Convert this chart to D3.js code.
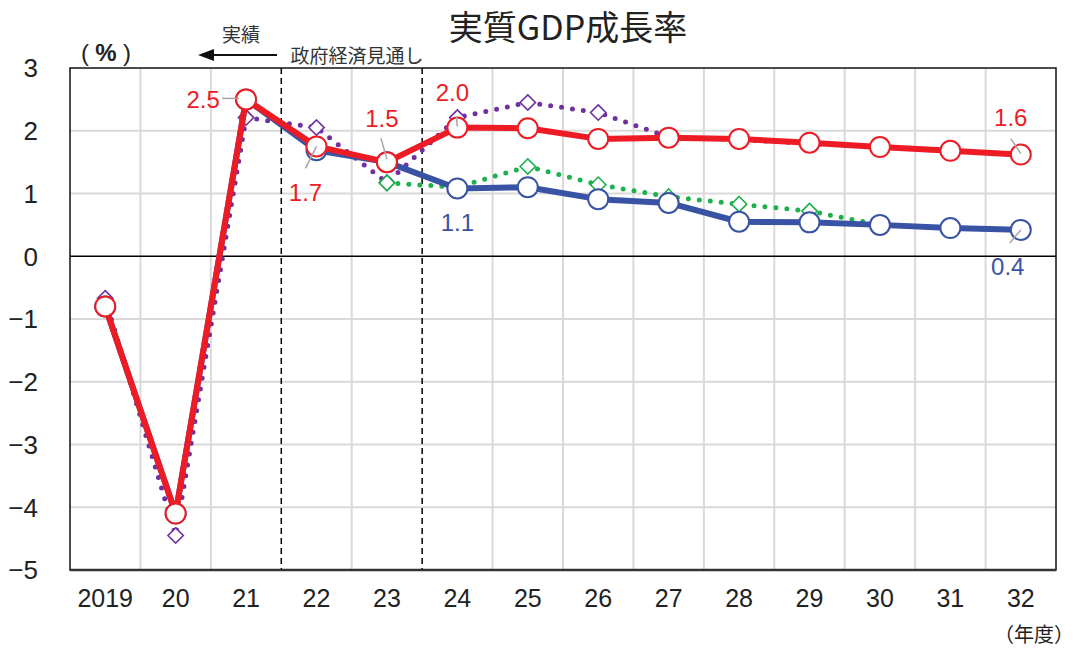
<!DOCTYPE html>
<html>
<head>
<meta charset="utf-8">
<script src="https://cdn.jsdelivr.net/npm/d3@7"></script>
<style>
  body { margin: 0; background: #fff; }
  text { font-family: "Liberation Sans", Arial, sans-serif; }
  .jp { font-family: "Noto Sans CJK JP", sans-serif; }
  .narrow { font-family: "Liberation Sans Narrow", "Liberation Sans", sans-serif; }
</style>
</head>
<body>
<div id="chart"></div>
<script>
// fiscal years
var years = ["2019", "20", "21", "22", "23", "24", "25", "26", "27", "28", "29", "30", "31", "32"];

// current estimates (%)
var growthCase = [-0.8, -4.1, 2.5, 1.75, 1.5, 2.05, 2.04, 1.87, 1.89, 1.87, 1.81, 1.74, 1.68, 1.62];
var baselineCase = [-0.8, -4.1, 2.5, 1.69, 1.5, 1.08, 1.1, 0.91, 0.85, 0.55, 0.54, 0.5, 0.45, 0.42];

// previous estimates (%)
var prevGrowth = [-0.67, -4.45, 2.21, 2.05, 1.17, 2.21, 2.45, 2.29, 1.9, 1.86, 1.8, 1.74, 1.68, 1.62];
var prevBaseline = [null, null, null, null, 1.17, 1.1, 1.43, 1.14, 0.95, 0.83, 0.72, 0.5, 0.45, 0.42];

var yTicks = [3, 2, 1, 0, -1, -2, -3, -4, -5];

// value labels
var growthLabelYears = ["21", "22", "23", "24", "32"];
var growthLabelTexts = ["2.5", "1.7", "1.5", "2.0", "1.6"];
var baseLabelYears = ["24", "32"];
var baseLabelTexts = ["1.1", "0.4"];

var svgWidth = 1080, svgHeight = 651;
var margin = { top: 68, right: 24, bottom: 81, left: 70 };

var svg = d3.select("#chart")
  .append("svg")
  .attr("width", svgWidth)
  .attr("height", svgHeight);

var x = d3.scaleBand()
  .domain(years)
  .range([margin.left, svgWidth - margin.right])
  .padding(0);

var y = d3.scaleLinear()
  .domain([-5, 3])
  .range([svgHeight - margin.bottom, margin.top]);

var cx = function(d, i) { return x(years[i]) + x.bandwidth() / 2; };

var RED = "#ed1c24", BLUE = "#3953a4", PURPLE = "#7030a0", GREEN = "#1db14b";

// grid
var grid = svg.append("g");
grid.selectAll("line.h")
  .data(yTicks.filter(function(t) { return t !== 3 && t !== -5 && t !== 0; }))
  .enter().append("line")
  .attr("x1", x.range()[0]).attr("x2", x.range()[1])
  .attr("y1", d => y(d)).attr("y2", d => y(d))
  .attr("stroke", "#d9d9d9").attr("stroke-width", 2);

grid.selectAll("line.v")
  .data(years.slice(1))
  .enter().append("line")
  .attr("x1", d => x(d)).attr("x2", d => x(d))
  .attr("y1", y(3)).attr("y2", y(-5))
  .attr("stroke", d => (d === "22" || d === "24") ? "#000" : "#d9d9d9")
  .attr("stroke-width", d => (d === "22" || d === "24") ? 1.5 : 2)
  .attr("stroke-dasharray", d => (d === "22" || d === "24") ? "6,4" : null);

// zero line
svg.append("line")
  .attr("x1", x.range()[0]).attr("x2", x.range()[1])
  .attr("y1", y(0)).attr("y2", y(0))
  .attr("stroke", "#000").attr("stroke-width", 1.5);

// frame
svg.append("rect")
  .attr("x", x.range()[0]).attr("y", y(3))
  .attr("width", x.range()[1] - x.range()[0])
  .attr("height", y(-5) - y(3))
  .attr("fill", "none").attr("stroke", "#111").attr("stroke-width", 1.5);
svg.append("line")
  .attr("x1", x.range()[0]).attr("x2", x.range()[1])
  .attr("y1", y(-5)).attr("y2", y(-5))
  .attr("stroke", "#333").attr("stroke-width", 2.5);

// axes labels
svg.append("g").selectAll("text")
  .data(yTicks)
  .enter().append("text")
  .attr("class", "narrow")
  .attr("x", 38)
  .attr("y", d => y(d))
  .attr("dy", "0.36em")
  .attr("text-anchor", "end")
  .attr("font-size", 26)
  .attr("fill", "#222")
  .text(d => d < 0 ? "\u2212" + Math.abs(d) : d);

svg.append("g").selectAll("text")
  .data(years)
  .enter().append("text")
  .attr("class", "narrow")
  .attr("x", d => x(d) + x.bandwidth() / 2)
  .attr("y", 607)
  .attr("text-anchor", "middle")
  .attr("font-size", 25)
  .attr("fill", "#222")
  .text(d => d);

svg.append("text").attr("class", "jp")
  .attr("x", 1074).attr("y", 642)
  .attr("text-anchor", "end")
  .attr("font-size", 20)
  .attr("fill", "#222")
  .text("（年度）");

// unit label "（%）"
var unit = svg.append("text")
  .attr("y", 61)
  .attr("text-anchor", "middle")
  .attr("fill", "#222");
unit.append("tspan").attr("x", 85).attr("font-size", 24).text("(");
unit.append("tspan").attr("x", 106).attr("font-size", 24).attr("font-weight", "bold").text("%");
unit.append("tspan").attr("x", 127).attr("font-size", 24).text(")");

// title
svg.append("text").attr("class", "jp")
  .attr("x", 568).attr("y", 40)
  .attr("text-anchor", "middle")
  .attr("font-size", 34)
  .attr("fill", "#222")
  .text("実質GDP成長率");

// actual / forecast annotation
svg.append("text").attr("class", "jp")
  .attr("x", 241).attr("y", 42)
  .attr("text-anchor", "middle")
  .attr("font-size", 19)
  .attr("fill", "#333")
  .text("実績");
svg.append("text").attr("class", "jp")
  .attr("x", 357).attr("y", 63)
  .attr("text-anchor", "middle")
  .attr("font-size", 19)
  .attr("fill", "#333")
  .text("政府経済見通し");
svg.append("line")
  .attr("x1", 210).attr("x2", 277)
  .attr("y1", 55).attr("y2", 55)
  .attr("stroke", "#111").attr("stroke-width", 2);
svg.append("path")
  .attr("d", "M198,55 L214,49 L214,61 Z")
  .attr("fill", "#111");

// lines
function lineFor(values) {
  return d3.line()
    .defined(d => d != null)
    .x(function(d, i) { return cx(d, i); })
    .y(d => y(d))(values);
}

function diamonds(values, color) {
  svg.append("g").selectAll("path")
    .data(values.map((v, i) => ({ v: v, i: i })).filter(d => d.v != null))
    .enter().append("path")
    .attr("d", d3.symbol().type(d3.symbolDiamond2).size(150))
    .attr("transform", d => "translate(" + cx(d.v, d.i) + "," + y(d.v) + ")")
    .attr("fill", "#fff")
    .attr("stroke", color)
    .attr("stroke-width", 1.6);
}

function circles(values, color) {
  svg.append("g").selectAll("circle")
    .data(values)
    .enter().append("circle")
    .attr("cx", (d, i) => cx(d, i))
    .attr("cy", d => y(d))
    .attr("r", 10)
    .attr("fill", "#fff")
    .attr("stroke", color)
    .attr("stroke-width", 2);
}

svg.append("path").attr("d", lineFor(prevGrowth))
  .attr("fill", "none").attr("stroke", PURPLE).attr("stroke-width", 5)
  .attr("stroke-linecap", "round").attr("stroke-dasharray", "0,11");
diamonds(prevGrowth, PURPLE);

svg.append("path").attr("d", lineFor(prevBaseline))
  .attr("fill", "none").attr("stroke", GREEN).attr("stroke-width", 5)
  .attr("stroke-linecap", "round").attr("stroke-dasharray", "0,11");
diamonds(prevBaseline, GREEN);

svg.append("path").attr("d", lineFor(baselineCase))
  .attr("fill", "none").attr("stroke", BLUE).attr("stroke-width", 6)
  .attr("stroke-linejoin", "round");
circles(baselineCase, BLUE);

svg.append("path").attr("d", lineFor(growthCase))
  .attr("fill", "none").attr("stroke", RED).attr("stroke-width", 6)
  .attr("stroke-linejoin", "round");
circles(growthCase, RED);

// value labels with leader lines
var labelOffsets = {
  "g21": { tx: -43, ty: 0, l: [-24, -1, -7, -1] },
  "g22": { tx: -11, ty: 46, l: [0, 0, -11, 22] },
  "g23": { tx: -5, ty: -44, l: [-6, -24, 0, -3] },
  "g24": { tx: -5, ty: -35, l: [-1, -11, 0, -1] },
  "g32": { tx: -10, ty: -37, l: [-10, -16, 0, -1] },
  "b24": { tx: 0, ty: 34, l: null },
  "b32": { tx: -13, ty: 36, l: [0, 0, -11, 13] }
};

function valueLabels(labelYears, texts, values, color, key) {
  labelYears.forEach(function(yr, k) {
    var i = years.indexOf(yr);
    var px = cx(values[i], i), py = y(values[i]);
    var o = labelOffsets[key + yr];
    if (o.l) {
      svg.append("line")
        .attr("x1", px + o.l[0]).attr("y1", py + o.l[1])
        .attr("x2", px + o.l[2]).attr("y2", py + o.l[3])
        .attr("stroke", "#a6a6a6").attr("stroke-width", 1.5);
    }
    svg.append("text")
      .attr("x", px + o.tx).attr("y", py + o.ty)
      .attr("dy", "0.36em")
      .attr("text-anchor", "middle")
      .attr("font-size", 24)
      .attr("fill", color)
      .text(texts[k]);
  });
}

valueLabels(growthLabelYears, growthLabelTexts, growthCase, RED, "g");
valueLabels(baseLabelYears, baseLabelTexts, baselineCase, BLUE, "b");
</script>
</body>
</html>
